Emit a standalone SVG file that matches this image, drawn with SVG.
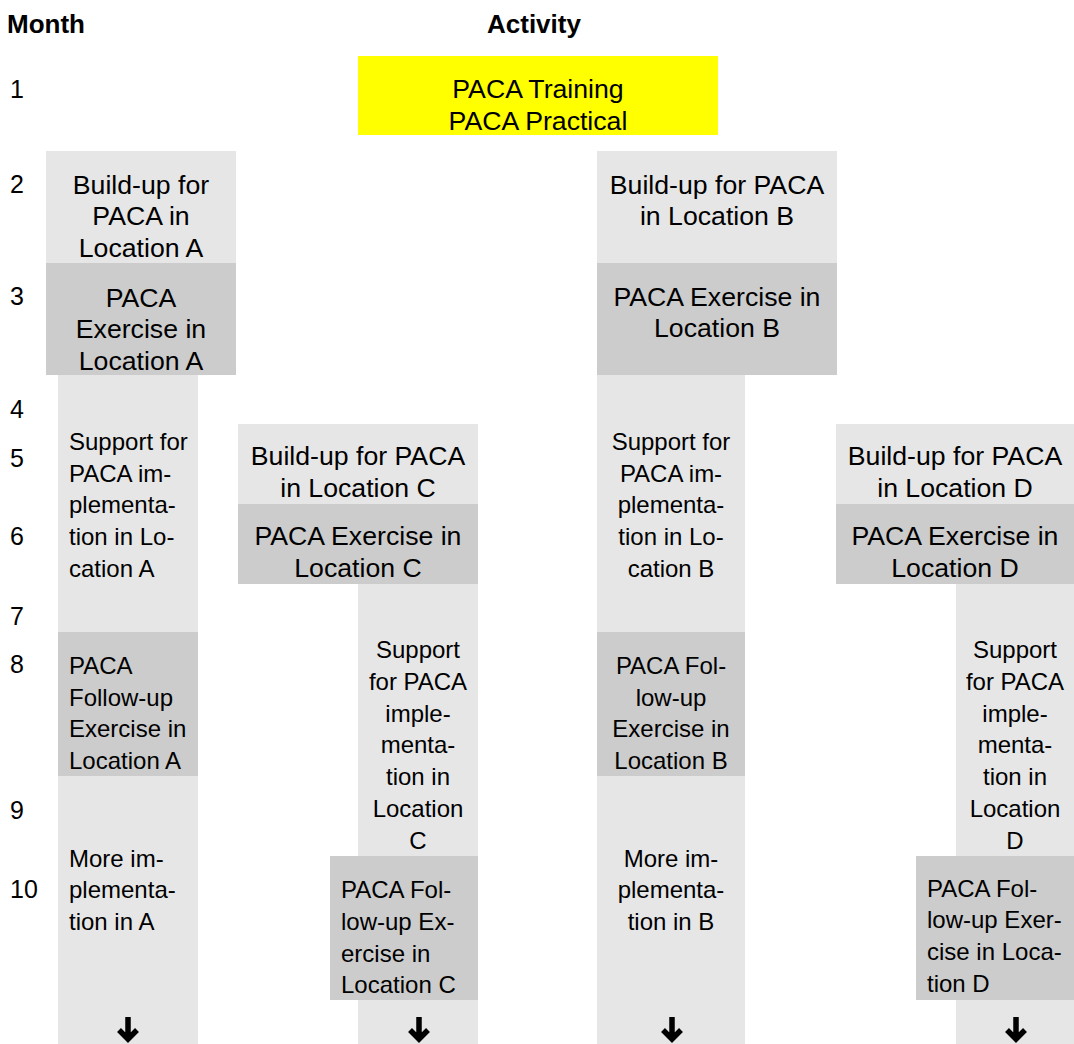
<svg xmlns="http://www.w3.org/2000/svg" width="1074" height="1044" viewBox="0 0 1074 1044">
<style>
text{font-family:"Liberation Sans",Arial,sans-serif;fill:#000}
.hd{font-size:26px;font-weight:bold}
.mn{font-size:25px}
.lg{font-size:26.67px}
.sm{font-size:24px}
.c{text-anchor:middle}
.lt{fill:#e6e6e6}
.dk{fill:#cccccc}
.yl{fill:#ffff00}
.arr{fill:none;stroke:#000;stroke-width:5.5}
</style>
<rect width="1074" height="1044" fill="#fff"/>
<g id="headers">
<text class="hd" x="7" y="33">Month</text>
<text class="hd" x="487" y="33">Activity</text>
</g>
<g id="months">
<text class="mn" x="10" y="98">1</text>
<text class="mn" x="10" y="193">2</text>
<text class="mn" x="10" y="305">3</text>
<text class="mn" x="10" y="418">4</text>
<text class="mn" x="10" y="467">5</text>
<text class="mn" x="10" y="545">6</text>
<text class="mn" x="10" y="625">7</text>
<text class="mn" x="10" y="673">8</text>
<text class="mn" x="10" y="819">9</text>
<text class="mn" x="10" y="898">10</text>
</g>
<g id="training">
<rect class="yl" x="358" y="56" width="360" height="79"/>
<text class="lg c" x="538" y="98">PACA Training</text>
<text class="lg c" x="538" y="130">PACA Practical</text>
</g>
<g id="buildup-a">
<rect class="lt" x="46" y="151" width="190" height="112"/>
<text class="lg c" x="141" y="194">Build-up for</text>
<text class="lg c" x="141" y="225">PACA in</text>
<text class="lg c" x="141" y="257">Location A</text>
</g>
<g id="exercise-a">
<rect class="dk" x="46" y="263" width="190" height="112"/>
<text class="lg c" x="141" y="307">PACA</text>
<text class="lg c" x="141" y="338">Exercise in</text>
<text class="lg c" x="141" y="370">Location A</text>
</g>
<g id="buildup-b">
<rect class="lt" x="597" y="151" width="240" height="112"/>
<text class="lg c" x="717" y="194">Build-up for PACA</text>
<text class="lg c" x="717" y="225">in Location B</text>
</g>
<g id="exercise-b">
<rect class="dk" x="597" y="263" width="240" height="112"/>
<text class="lg c" x="717" y="306">PACA Exercise in</text>
<text class="lg c" x="717" y="337">Location B</text>
</g>
<g id="support-a">
<rect class="lt" x="58" y="375" width="140" height="669"/>
<text class="sm" x="69" y="450">Support for</text>
<text class="sm" x="69" y="482">PACA im-</text>
<text class="sm" x="69" y="513">plementa-</text>
<text class="sm" x="69" y="545">tion in Lo-</text>
<text class="sm" x="69" y="577">cation A</text>
</g>
<g id="followup-a">
<rect class="dk" x="58" y="632" width="140" height="144"/>
<text class="sm" x="69" y="674">PACA</text>
<text class="sm" x="69" y="706">Follow-up</text>
<text class="sm" x="69" y="737">Exercise in</text>
<text class="sm" x="69" y="769">Location A</text>
</g>
<g id="more-a">
<text class="sm" x="69" y="867">More im-</text>
<text class="sm" x="69" y="898">plementa-</text>
<text class="sm" x="69" y="930">tion in A</text>
</g>
<g id="support-b">
<rect class="lt" x="597" y="375" width="148" height="669"/>
<text class="sm c" x="671" y="450">Support for</text>
<text class="sm c" x="671" y="482">PACA im-</text>
<text class="sm c" x="671" y="513">plementa-</text>
<text class="sm c" x="671" y="545">tion in Lo-</text>
<text class="sm c" x="671" y="577">cation B</text>
</g>
<g id="followup-b">
<rect class="dk" x="597" y="632" width="148" height="144"/>
<text class="sm c" x="671" y="674">PACA Fol-</text>
<text class="sm c" x="671" y="706">low-up</text>
<text class="sm c" x="671" y="737">Exercise in</text>
<text class="sm c" x="671" y="769">Location B</text>
</g>
<g id="more-b">
<text class="sm c" x="671" y="867">More im-</text>
<text class="sm c" x="671" y="898">plementa-</text>
<text class="sm c" x="671" y="930">tion in B</text>
</g>
<g id="buildup-c">
<rect class="lt" x="238" y="424" width="240" height="80"/>
<text class="lg c" x="358" y="465">Build-up for PACA</text>
<text class="lg c" x="358" y="497">in Location C</text>
</g>
<g id="exercise-c">
<rect class="dk" x="238" y="504" width="240" height="80"/>
<text class="lg c" x="358" y="545">PACA Exercise in</text>
<text class="lg c" x="358" y="577">Location C</text>
</g>
<g id="support-c">
<rect class="lt" x="358" y="584" width="120" height="460"/>
<text class="sm c" x="418" y="658">Support</text>
<text class="sm c" x="418" y="690">for PACA</text>
<text class="sm c" x="418" y="722">imple-</text>
<text class="sm c" x="418" y="753">menta-</text>
<text class="sm c" x="418" y="785">tion in</text>
<text class="sm c" x="418" y="817">Location</text>
<text class="sm c" x="418" y="849">C</text>
</g>
<g id="followup-c">
<rect class="dk" x="330" y="856" width="148" height="144"/>
<text class="sm" x="341" y="898">PACA Fol-</text>
<text class="sm" x="341" y="930">low-up Ex-</text>
<text class="sm" x="341" y="962">ercise in</text>
<text class="sm" x="341" y="993">Location C</text>
</g>
<g id="buildup-d">
<rect class="lt" x="836" y="424" width="238" height="80"/>
<text class="lg c" x="955" y="465">Build-up for PACA</text>
<text class="lg c" x="955" y="497">in Location D</text>
</g>
<g id="exercise-d">
<rect class="dk" x="836" y="504" width="238" height="80"/>
<text class="lg c" x="955" y="545">PACA Exercise in</text>
<text class="lg c" x="955" y="577">Location D</text>
</g>
<g id="support-d">
<rect class="lt" x="956" y="584" width="118" height="460"/>
<text class="sm c" x="1015" y="658">Support</text>
<text class="sm c" x="1015" y="690">for PACA</text>
<text class="sm c" x="1015" y="722">imple-</text>
<text class="sm c" x="1015" y="753">menta-</text>
<text class="sm c" x="1015" y="785">tion in</text>
<text class="sm c" x="1015" y="817">Location</text>
<text class="sm c" x="1015" y="849">D</text>
</g>
<g id="followup-d">
<rect class="dk" x="916" y="856" width="158" height="144"/>
<text class="sm" x="927" y="897">PACA Fol-</text>
<text class="sm" x="927" y="928">low-up Exer-</text>
<text class="sm" x="927" y="960">cise in Loca-</text>
<text class="sm" x="927" y="992">tion D</text>
</g>
<g id="connectors">
<path class="arr" d="M128 1017V1039M119 1030L128 1039L137 1030"/>
<path class="arr" d="M419 1017V1039M410 1030L419 1039L428 1030"/>
<path class="arr" d="M672 1017V1039M663 1030L672 1039L681 1030"/>
<path class="arr" d="M1016 1017V1039M1007 1030L1016 1039L1025 1030"/>
</g>
</svg>
